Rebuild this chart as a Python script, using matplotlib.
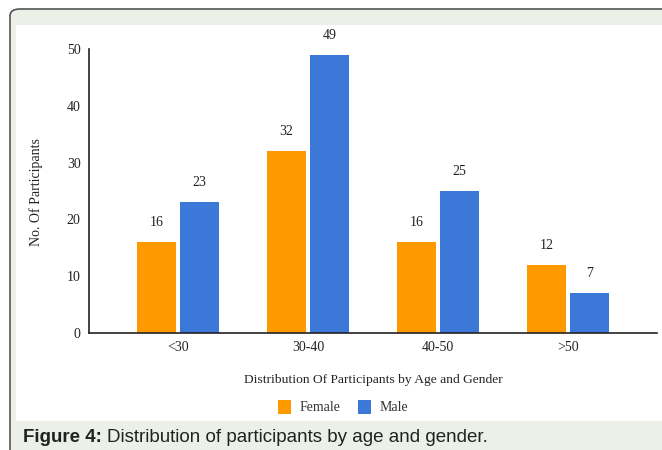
import matplotlib.pyplot as plt
import numpy as np
from matplotlib.patches import FancyBboxPatch, Rectangle

# participants per age group
age_groups = ["<30", "30-40", "40-50", ">50"]
female = [16, 32, 16, 12]
male = [23, 49, 25, 7]

orange = "#FF9900"
blue = "#3C78D8"
panel_green = "#ECF1E8"

fig = plt.figure(figsize=(6.62, 4.5), dpi=100)
W, H = 662, 450

def fx(px):
    return px / W

def fy(py):
    return 1 - py / H

# outer rounded frame with green fill
frame = FancyBboxPatch((fx(10), fy(470)), fx(700), 461 / H,
                       boxstyle="round,pad=0,rounding_size=0.015",
                       transform=fig.transFigure, facecolor=panel_green,
                       edgecolor="#555555", linewidth=1.2, zorder=0)
fig.patches.append(frame)
# white chart panel
fig.patches.append(Rectangle((fx(16), fy(421)), fx(660), (421 - 25) / H,
                             transform=fig.transFigure, facecolor="white",
                             edgecolor="none", zorder=0.5))

ax = fig.add_axes([fx(89), fy(333), fx(657) - fx(89), fy(49) - fy(333)])
ax.set_facecolor("none")
ax.set_zorder(2)

x = np.arange(len(age_groups))
w = 0.305
b1 = ax.bar(x - 0.165, female, w, color=orange, label="Female")
b2 = ax.bar(x + 0.165, male, w, color=blue, label="Male")

serif = "Liberation Serif"
for bars, vals in ((b1, female), (b2, male)):
    for rect, v in zip(bars, vals):
        ax.annotate(str(v), (rect.get_x() + rect.get_width() / 2, v),
                    xytext=(0, 14), textcoords="offset points",
                    ha="center", va="center", fontsize=10,
                    family=serif, color="#222222")

ax.set_xlim(-0.685, 3.685)
ax.set_ylim(0, 50)
ax.set_yticks([0, 10, 20, 30, 40, 50])
ax.set_xticks(x)
ax.set_xticklabels(age_groups)
ax.tick_params(length=0, labelsize=10, colors="#222222", pad=6)
ax.tick_params(axis="y", pad=6)
for lbl in ax.get_xticklabels() + ax.get_yticklabels():
    lbl.set_family(serif)
for s in ("top", "right"):
    ax.spines[s].set_visible(False)
for s in ("left", "bottom"):
    ax.spines[s].set_color("#222222")
    ax.spines[s].set_linewidth(1.2)

fig.text(fx(373), fy(380), "Distribution Of Participants by Age and Gender",
         ha="center", va="center", fontsize=9.7, family=serif, color="#222222",
         zorder=3)
fig.text(fx(36), fy(192), "No. Of Participants", rotation=90,
         ha="center", va="center", fontsize=10, family=serif, color="#222222",
         zorder=3)

ax.legend(loc="center", bbox_to_anchor=(fx(343), fy(407)),
          bbox_transform=fig.transFigure, ncol=2, frameon=False,
          prop={"family": serif, "size": 10}, handlelength=0.95,
          handleheight=1.2, handletextpad=0.6, columnspacing=1.3,
          labelcolor="#333333")

cap = fig.text(fx(23), fy(437), "Figure 4:", ha="left", va="center",
               fontsize=13.5, fontweight="bold", family="Liberation Sans",
               color="#222222", zorder=3)
fig.canvas.draw()
bb = cap.get_window_extent()
fig.text(bb.x1 / W + fx(5), fy(437),
         "Distribution of participants by age and gender.",
         ha="left", va="center", fontsize=13.5, family="Liberation Sans",
         color="#222222", zorder=3)

fig.savefig("out.png", dpi=100)
